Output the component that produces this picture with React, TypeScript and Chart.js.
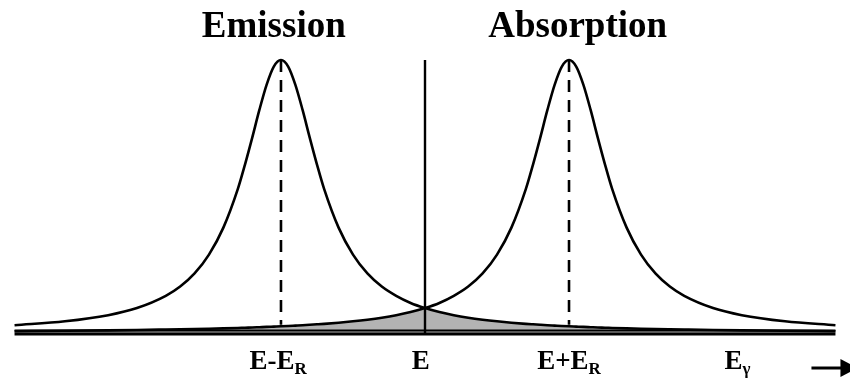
import React, { useEffect, useRef } from "react";
import { Chart, registerables } from "chart.js";

Chart.register(...registerables);

// Energy axis in units of the recoil energy E_R (0 = E)
const energy = [
  -2.85, -2.5, -2.2, -2.0, -1.8, -1.7, -1.6, -1.5, -1.4, -1.3, -1.25, -1.2, -1.15, -1.1, -1.05,
  -1.0, -0.95, -0.9, -0.85, -0.8, -0.75, -0.7, -0.6, -0.5, -0.4, -0.3, -0.2, -0.1, 0,
  0.1, 0.2, 0.3, 0.4, 0.5, 0.6, 0.7, 0.75, 0.8, 0.85, 0.9, 0.95, 1.0, 1.05, 1.1, 1.15,
  1.2, 1.25, 1.3, 1.4, 1.5, 1.6, 1.7, 1.8, 2.0, 2.2, 2.5, 2.85,
];

// Emission line (centred at E - E_R), normalised intensity
const emission = [
  0.0285, 0.0428, 0.0652, 0.0913, 0.136, 0.17, 0.218, 0.287, 0.386, 0.527, 0.617, 0.715, 0.817, 0.909, 0.976,
  1.0, 0.976, 0.909, 0.817, 0.715, 0.617, 0.527, 0.386, 0.287, 0.218, 0.17, 0.136, 0.11, 0.0913,
  0.0767, 0.0652, 0.0561, 0.0488, 0.0428, 0.0378, 0.0336, 0.0318, 0.0301, 0.0285, 0.0271, 0.0257, 0.0245, 0.0234, 0.0223, 0.0213,
  0.0203, 0.0195, 0.0186, 0.0171, 0.0158, 0.0146, 0.0136, 0.0127, 0.011, 0.0097, 0.0081, 0.0067,
];

// Absorption line (centred at E + E_R)
const absorption = [
  0.0067, 0.0081, 0.0097, 0.011, 0.0127, 0.0136, 0.0146, 0.0158, 0.0171, 0.0186, 0.0195, 0.0203, 0.0213, 0.0223, 0.0234,
  0.0245, 0.0257, 0.0271, 0.0285, 0.0301, 0.0318, 0.0336, 0.0378, 0.0428, 0.0488, 0.0561, 0.0652, 0.0767, 0.0913,
  0.11, 0.136, 0.17, 0.218, 0.287, 0.386, 0.527, 0.617, 0.715, 0.817, 0.909, 0.976, 1.0, 0.976, 0.909, 0.817,
  0.715, 0.617, 0.527, 0.386, 0.287, 0.218, 0.17, 0.136, 0.0913, 0.0652, 0.0428, 0.0285,
];

// Overlap of the two lines (shaded)
const overlapEnergy = [
  -2.85, -2.5, -2.2, -2.0, -1.8, -1.6, -1.4, -1.2, -1.0, -0.8, -0.6, -0.5, -0.4, -0.3, -0.2, -0.1, 0,
  0.1, 0.2, 0.3, 0.4, 0.5, 0.6, 0.8, 1.0, 1.2, 1.4, 1.6, 1.8, 2.0, 2.2, 2.5, 2.85,
];
const overlap = [
  0.0067, 0.0081, 0.0097, 0.011, 0.0127, 0.0146, 0.0171, 0.0203, 0.0245, 0.0301, 0.0378, 0.0428, 0.0488, 0.0561, 0.0652, 0.0767, 0.0913,
  0.0767, 0.0652, 0.0561, 0.0488, 0.0428, 0.0378, 0.0301, 0.0245, 0.0203, 0.0171, 0.0146, 0.0127, 0.011, 0.0097, 0.0081, 0.0067,
];

const peakEnergies = [-1, 1];
const peakHeight = 1.0;
const dashBottom = 0.03;
const centerEnergy = 0;
const axisRange = [-2.85, 2.85];

const titles = [
  { x: -1.05, text: "Emission" },
  { x: 1.06, text: "Absorption" },
];
const tickLabels = [
  { x: -1.02, main: "E-E", sub: "R" },
  { x: -0.03, main: "E", sub: "" },
  { x: 1.0, main: "E+E", sub: "R" },
  { x: 2.17, main: "E", sub: "γ" },
];

const FONT = "'Liberation Serif', 'Times New Roman', serif";

const decorPlugin = {
  id: "decor",
  afterDatasetsDraw(chart: any) {
    const { ctx, scales } = chart;
    const xs = scales.x;
    const ys = scales.y;
    const y0 = ys.getPixelForValue(0);
    const xl = xs.getPixelForValue(axisRange[0]);
    const xr = xs.getPixelForValue(axisRange[1]);
    ctx.save();
    ctx.strokeStyle = "#000";
    ctx.lineWidth = 1.8;
    ctx.beginPath();
    ctx.moveTo(xl, y0 - 2.5);
    ctx.lineTo(xr, y0 - 2.5);
    ctx.stroke();
    ctx.lineWidth = 2.8;
    ctx.beginPath();
    ctx.moveTo(xl, y0 + 1);
    ctx.lineTo(xr, y0 + 1);
    ctx.stroke();

    // titles
    ctx.fillStyle = "#000";
    ctx.textAlign = "center";
    ctx.textBaseline = "alphabetic";
    ctx.font = `bold 37px ${FONT}`;
    titles.forEach((t) => {
      ctx.fillText(t.text, xs.getPixelForValue(t.x), 37);
    });

    // tick labels with subscripts
    const mainFont = `bold 27px ${FONT}`;
    const subFont = `bold 17px ${FONT}`;
    const base = y0 + 36;
    tickLabels.forEach((l) => {
      ctx.font = mainFont;
      const wm = ctx.measureText(l.main).width;
      ctx.font = subFont;
      const ws = l.sub ? ctx.measureText(l.sub).width : 0;
      const cx = xs.getPixelForValue(l.x);
      const left = cx - (wm + ws) / 2;
      ctx.textAlign = "left";
      ctx.font = mainFont;
      ctx.fillText(l.main, left, base);
      if (l.sub) {
        ctx.font = subFont;
        ctx.fillText(l.sub, left + wm, base + 5);
      }
    });

    // axis arrow
    const ay = y0 + 35;
    const ax0 = xr - 24;
    const ax1 = xr + 6;
    ctx.lineWidth = 3;
    ctx.beginPath();
    ctx.moveTo(ax0, ay);
    ctx.lineTo(ax1, ay);
    ctx.stroke();
    ctx.beginPath();
    ctx.moveTo(ax1 - 1, ay - 9);
    ctx.lineTo(ax1 + 16, ay);
    ctx.lineTo(ax1 - 1, ay + 9);
    ctx.closePath();
    ctx.fill();
    ctx.restore();
  },
};

export default function App() {
  const ref = useRef<HTMLCanvasElement | null>(null);
  useEffect(() => {
    if (!ref.current) return;
    const pts = (xs: number[], ys: number[]) => xs.map((x, i) => ({ x, y: ys[i] }));
    const chart = new Chart(ref.current, {
      type: "line",
      data: {
        datasets: [
          {
            label: "Emission",
            data: pts(energy, emission),
            borderColor: "#000",
            borderWidth: 2.6,
            pointRadius: 0,
            cubicInterpolationMode: "monotone",
            fill: false,
            order: 1,
          },
          {
            label: "Absorption",
            data: pts(energy, absorption),
            borderColor: "#000",
            borderWidth: 2.6,
            pointRadius: 0,
            cubicInterpolationMode: "monotone",
            fill: false,
            order: 1,
          },
          {
            label: "Overlap",
            data: pts(overlapEnergy, overlap),
            borderColor: "rgba(0,0,0,0)",
            borderWidth: 0,
            backgroundColor: "#b3b3b3",
            pointRadius: 0,
            tension: 0,
            fill: "origin",
            order: 10,
          },
          {
            label: "E",
            data: [
              { x: centerEnergy, y: 0 },
              { x: centerEnergy, y: peakHeight },
            ],
            borderColor: "#000",
            borderWidth: 2.4,
            pointRadius: 0,
            fill: false,
            order: 2,
          },
          ...peakEnergies.map((p) => ({
            label: "peak",
            data: [
              { x: p, y: peakHeight },
              { x: p, y: dashBottom },
            ],
            borderColor: "#000",
            borderWidth: 2.6,
            borderDash: [12, 8],
            pointRadius: 0,
            fill: false,
            order: 2,
          })),
        ],
      },
      options: {
        animation: false,
        responsive: false,
        maintainAspectRatio: false,
        layout: { padding: 0 },
        plugins: { legend: { display: false }, tooltip: { enabled: false }, title: { display: false } },
        scales: {
          x: { type: "linear", min: -2.951, max: 2.951, display: false },
          y: { type: "linear", min: -0.1758, max: 1.2198, display: false },
        },
      } as any,
      plugins: [decorPlugin],
    } as any);
    return () => chart.destroy();
  }, []);
  return (
    <div style={{ position: "fixed", left: 0, top: 0, width: 850, height: 381, background: "#fff" }}>
      <canvas ref={ref} width={850} height={381} style={{ width: 850, height: 381, display: "block" }} />
    </div>
  );
}
